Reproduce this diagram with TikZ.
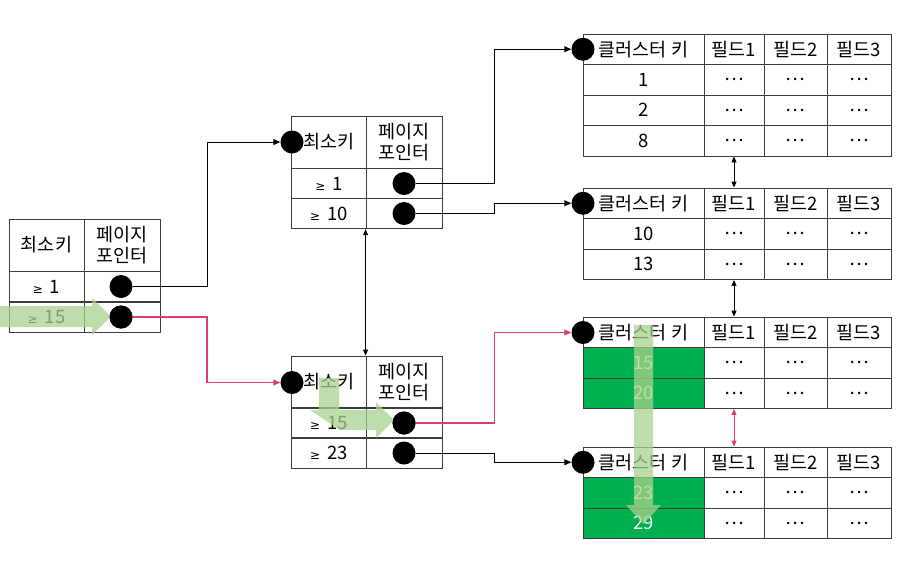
\documentclass[tikz,border=0pt]{standalone}
\usepackage{fontspec}
\setmainfont{Noto Sans CJK KR}
\newfontfamily\symsans{DejaVu Sans}
\newcommand\gesym{{\symsans\fontsize{12}{12}\selectfont ≥}\hspace{7pt}}
\usetikzlibrary{arrows.meta}
\definecolor{lc}{RGB}{60,60,60}
\definecolor{pk}{RGB}{222,60,110}
\definecolor{gf}{RGB}{0,176,80}
\definecolor{hl}{RGB}{169,209,142}
\newcommand\rhead[2]{%
  \node[cell,kc] (#1k) at (643.5,#2) {클러스터 키};
  \node[cell,ca] (#1a) at (734,#2) {필드1};
  \node[cell,cb] (#1b) at (795.5,#2) {필드2};
  \node[cell,cc] (#1c) at (859,#2) {필드3};}
\newcommand\rrow[4]{%
  \node[cell,kc,#4] (#1k) at (643.5,#2) {#3};
  \node[cell,ca] (#1a) at (734,#2) {⋯};
  \node[cell,cb] (#1b) at (795.5,#2) {⋯};
  \node[cell,cc] (#1c) at (859,#2) {⋯};}
\begin{document}
\begin{tikzpicture}[x=1pt,y=-1pt,
  cell/.style={draw=lc,line width=0.9pt,inner sep=0pt,align=center,
    font=\fontsize{18.5}{20.5}\selectfont,minimum height=30.5pt},
  kc/.style={minimum width=121pt},
  ca/.style={minimum width=60pt},
  cb/.style={minimum width=63pt},
  cc/.style={minimum width=64pt},
  lk/.style={minimum width=75pt},
  lp/.style={minimum width=76pt},
  tall/.style={minimum height=52pt},
  grn/.style={fill=gf,text=white},
  dot/.style={circle,fill=black,inner sep=0pt,minimum size=23pt},
  conn/.style={line width=1pt,-{Triangle[length=7pt,width=6pt]}},
  pconn/.style={conn,draw=pk,line width=1.1pt},
  dbl/.style={line width=0.9pt,{Triangle[length=6pt,width=5pt]}-{Triangle[length=6pt,width=5pt]}},
  hlarrow/.style={fill=hl,fill opacity=0.75,draw=none}]
\useasboundingbox (0,0) rectangle (902,563);

% left table
\node[cell,lk,tall] (Lh0) at (46.5,245) {최소키};
\node[cell,lp,tall] (Lh1) at (122,245) {페이지\\포인터};
\node[cell,lk] (L1k) at (46.5,286.5) {\gesym 1};
\node[cell,lp] (L1p) at (122,286.5) {};
\node[cell,lk] (L2k) at (46.5,317.5) {\gesym 15};
\node[cell,lp] (L2p) at (122,317.5) {};

% middle top table
\node[cell,lk,tall] (Mh0) at (329,142) {최소키};
\node[cell,lp,tall] (Mh1) at (404,142) {페이지\\포인터};
\node[cell,lk] (M1k) at (329,183.5) {\gesym 1};
\node[cell,lp] (M1p) at (404,183.5) {};
\node[cell,lk] (M2k) at (329,213.5) {\gesym 10};
\node[cell,lp] (M2p) at (404,213.5) {};

% middle bottom table
\node[cell,lk,tall] (Nh0) at (329,382) {최소키};
\node[cell,lp,tall] (Nh1) at (404,382) {페이지\\포인터};
\node[cell,lk] (N1k) at (329,423) {\gesym 15};
\node[cell,lp] (N1p) at (404,423) {};
\node[cell,lk] (N2k) at (329,453) {\gesym 23};
\node[cell,lp] (N2p) at (404,453) {};

% right tables
\rhead{T1h}{49.25}
\rrow{T1r1}{79.75}{1}{}
\rrow{T1r2}{110.25}{2}{}
\rrow{T1r3}{140.75}{8}{}

\rhead{T2h}{203.25}
\rrow{T2r1}{233.75}{10}{}
\rrow{T2r2}{264.25}{13}{}

\rhead{T3h}{332.25}
\rrow{T3r1}{362.75}{15}{grn}
\rrow{T3r2}{393.25}{20}{grn}

\rhead{T4h}{462.25}
\rrow{T4r1}{492.75}{23}{grn}
\rrow{T4r2}{523.25}{29}{grn}

% dots
\node[dot] (L1d) at (121,286.5) {};
\node[dot] (L2d) at (121,317) {};
\node[dot] (M0d) at (292,142) {};
\node[dot] (M1d) at (404,183.5) {};
\node[dot] (M2d) at (404,213.5) {};
\node[dot] (N0d) at (292,382.5) {};
\node[dot] (N1d) at (404,423) {};
\node[dot] (N2d) at (404,453) {};
\node[dot] (T1d) at (583,49.25) {};
\node[dot] (T2d) at (583,203.25) {};
\node[dot] (T3d) at (583,332.5) {};
\node[dot] (T4d) at (583,462.25) {};

% bend coordinates
\coordinate (bA) at (207,0);
\coordinate (bB) at (494.5,0);

% connectors
\draw[conn] (L1d) -- (L1d -| bA) -- (bA |- M0d) -- (M0d);
\draw[pconn] (L2d) -- (L2d -| bA) -- (bA |- N0d) -- (N0d);
\draw[conn] (M1d) -- (M1d -| bB) -- (bB |- T1d) -- (T1d);
\draw[conn] (M2d) -- (M2d -| bB) -- (bB |- T2d) -- (T2d);
\draw[pconn] (N1d) -- (N1d -| bB) -- (bB |- T3d) -- (T3d);
\draw[conn] (N2d) -- (N2d -| bB) -- (bB |- T4d) -- (T4d);

\draw[dbl] (M2p.south west) -- (Nh1.north west);
\draw[dbl] (T1r3a.south) -- (T2ha.north);
\draw[dbl] (T2r2a.south) -- (T3ha.north);
\draw[dbl,draw=pk,fill=pk] (T3r2a.south) -- (T4ha.north);

% highlight arrows
\fill[hlarrow] (0,306) -- (92,306) -- (92,298) -- (111,316.5) -- (92,335) -- (92,327) -- (0,327) -- cycle;
\fill[hlarrow] (319,378) -- (339,378) -- (339,410) -- (376,410) -- (376,402) -- (394,420) -- (376,438) -- (376,430) -- (340,430) -- (310,410) -- (319,410) -- cycle;
\fill[hlarrow] (634,325) -- (653,325) -- (653,505) -- (661,505) -- (643.5,524) -- (626,505) -- (634,505) -- cycle;

% redraw dots on top of highlights
\fill (L2d) circle (11.5pt);
\fill (N1d) circle (11.5pt);
\end{tikzpicture}
\end{document}
